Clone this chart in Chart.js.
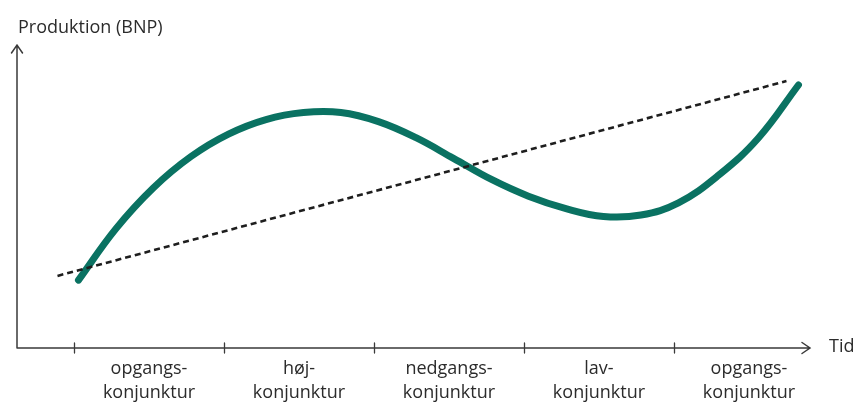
<!DOCTYPE html>
<html>
<head>
<meta charset="utf-8">
<script src="https://cdn.jsdelivr.net/npm/chart.js@4"></script>
<style>
  html, body { margin: 0; padding: 0; background: #fff; }
  #wrap { width: 857px; height: 403px; }
</style>
</head>
<body>
<div id="wrap"><canvas id="chart" width="857" height="403"></canvas></div>
<script>
// time in phase units (ticks at 0..4), production on 0-100 scale
const cycleTime = [0.03, 0.28, 0.53, 0.78, 1.03, 1.28, 1.53, 1.78, 2.03, 2.28, 2.53, 2.78, 3.03, 3.28, 3.53, 3.78, 4.03, 4.297, 4.563, 4.83];
const cycleValue = [22.4, 39.4, 52.9, 63.2, 70.6, 75.4, 77.7, 77.7, 74.7, 69.4, 62.6, 55.7, 50.1, 46.0, 43.4, 43.9, 47.9, 57.0, 69.3, 86.8];
const trendTime = [-0.11, 4.75];
const trendValue = [23.8, 88.1];
const phaseTicks = [0, 1, 2, 3, 4];
const phaseLabels = [
    ["opgangs-", "konjunktur"],
    ["høj-", "konjunktur"],
    ["nedgangs-", "konjunktur"],
    ["lav-", "konjunktur"],
    ["opgangs-", "konjunktur"]
];
const yTitle = "Produktion (BNP)";
const xTitle = "Tid";

const axisColor = "#3a3a3a";
const textColor = "#2b2b2b";
const fontName = "'Open Sans', 'Noto Sans', sans-serif";

const axesPlugin = {
    id: "axesPlugin",
    afterDraw(chart) {
        const ctx = chart.ctx;
        const x = chart.scales.x;
        const y = chart.scales.y;
        const left = chart.chartArea.left;
        const right = chart.chartArea.right;
        const top = chart.chartArea.top;
        const base = y.getPixelForValue(0);

        ctx.save();
        ctx.strokeStyle = axisColor;
        ctx.lineWidth = 1.5;
        ctx.lineCap = "round";

        // y axis with arrow
        ctx.beginPath();
        ctx.moveTo(left, base);
        ctx.lineTo(left, top);
        ctx.moveTo(left - 5.5, top + 8);
        ctx.lineTo(left, top);
        ctx.lineTo(left + 5.5, top + 8);
        // x axis with arrow
        ctx.moveTo(left, base);
        ctx.lineTo(right, base);
        ctx.moveTo(right - 8, base - 5.5);
        ctx.lineTo(right, base);
        ctx.lineTo(right - 8, base + 5.5);
        ctx.stroke();

        // phase boundary ticks
        ctx.lineWidth = 1.3;
        ctx.beginPath();
        phaseTicks.forEach(t => {
            const px = Math.round(x.getPixelForValue(t)) + 0.5;
            ctx.moveTo(px, base - 5);
            ctx.lineTo(px, base + 5);
        });
        ctx.stroke();

        // phase labels between ticks
        ctx.fillStyle = textColor;
        ctx.font = "18px " + fontName;
        ctx.textAlign = "center";
        ctx.textBaseline = "middle";
        phaseLabels.forEach((lines, i) => {
            const px = x.getPixelForValue(phaseTicks[i] + 0.5);
            lines.forEach((line, j) => {
                ctx.fillText(line, px, base + 21 + j * 24);
            });
        });

        // axis titles
        ctx.font = "18px " + fontName;
        ctx.textAlign = "left";
        ctx.fillText(xTitle, right + 19, base - 1);
        ctx.fillText(yTitle, left + 1, top - 17);
        ctx.restore();
    }
};

new Chart(document.getElementById("chart"), {
    type: "line",
    data: {
        datasets: [
            {
                label: "Trend",
                data: trendTime.map((t, i) => ({ x: t, y: trendValue[i] })),
                borderColor: "#1e1e1e",
                borderWidth: 2.6,
                borderDash: [6, 4],
                pointRadius: 0,
                fill: false
            },
            {
                label: "Konjunktur",
                data: cycleTime.map((t, i) => ({ x: t, y: cycleValue[i] })),
                borderColor: "#0a7262",
                borderWidth: 7,
                borderCapStyle: "round",
                tension: 0.4,
                pointRadius: 0,
                fill: false
            }
        ]
    },
    options: {
        responsive: false,
        animation: false,
        layout: { padding: { left: 17, right: 47, top: 45, bottom: 55 } },
        plugins: {
            legend: { display: false },
            tooltip: { enabled: false }
        },
        scales: {
            x: { type: "linear", min: -0.38, max: 4.907, display: false },
            y: { type: "linear", min: 0, max: 100, display: false }
        }
    },
    plugins: [axesPlugin]
});
</script>
</body>
</html>
